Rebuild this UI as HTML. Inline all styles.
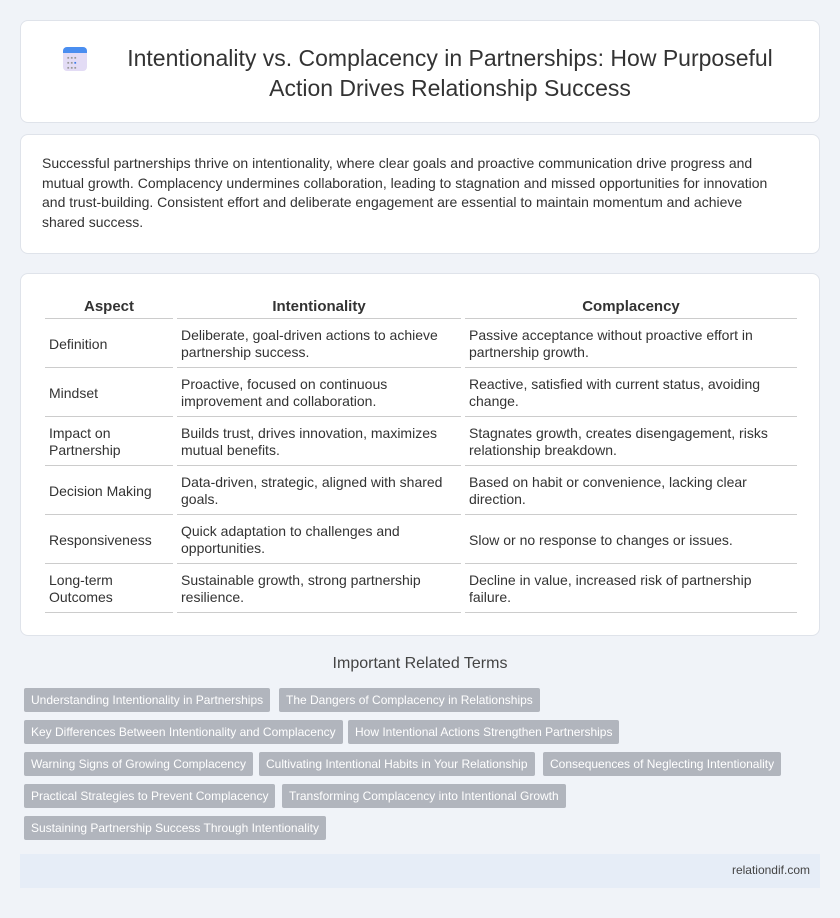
<!DOCTYPE html><html><head><meta charset="utf-8"><style>
body{margin:0;background:#f0f3f8;font-family:"Liberation Sans",sans-serif;color:#333;width:840px;height:918px;position:relative;overflow:hidden}
.card{position:absolute;left:20px;width:798px;background:#fff;border:1px solid #dfe3ea;border-radius:8px}
h1{margin:0;font-weight:normal;font-size:23px;line-height:30px;text-align:center;color:#333}
p{margin:0;font-size:14px;line-height:19.5px;color:#333}
table{border-collapse:separate;border-spacing:4px 2px;font-size:14px;position:absolute;left:20px;top:18px;width:760px}
th{font-weight:bold;font-size:15px;height:22px;border-bottom:1px solid #ccc;text-align:center}
td{border-bottom:1px solid #ccc;height:46px;padding:0 4px;line-height:17px;vertical-align:middle}
.tag{position:absolute;height:24px;line-height:24px;background:#b1b5bd;color:#fff;font-size:12px;padding:0 7px;border-radius:2px;white-space:nowrap}
</style></head><body>
<div class="card" style="top:20px;height:101px">
<div style="position:absolute;left:42px;top:26px;width:24px;height:24px;border-radius:4px;background:#e3dcf5;overflow:hidden"><div style="height:6px;background:#4a8ef0"></div>
<div style="position:absolute;left:4px;top:9px;font-size:7px;color:#999;letter-spacing:1px;line-height:5px">▪▪▪<br>▪▪<span style="color:#3a7be8">▪</span><br>▪▪▪</div></div>
<h1 style="position:absolute;left:80px;right:20px;top:22px">Intentionality vs. Complacency in Partnerships: How Purposeful Action Drives Relationship Success</h1>
</div>
<div class="card" style="top:134px;height:118px"><p style="position:absolute;left:21px;right:36px;top:19px">Successful partnerships thrive on intentionality, where clear goals and proactive communication drive progress and mutual growth. Complacency undermines collaboration, leading to stagnation and missed opportunities for innovation and trust-building. Consistent effort and deliberate engagement are essential to maintain momentum and achieve shared success.</p></div>
<div class="card" style="top:273px;height:361px">
<table>
<tr><th style="width:126px">Aspect</th><th style="width:282px">Intentionality</th><th>Complacency</th></tr>
<tr><td>Definition</td><td>Deliberate, goal-driven actions to achieve partnership success.</td><td>Passive acceptance without proactive effort in partnership growth.</td></tr>
<tr><td>Mindset</td><td>Proactive, focused on continuous improvement and collaboration.</td><td>Reactive, satisfied with current status, avoiding change.</td></tr>
<tr><td>Impact on Partnership</td><td>Builds trust, drives innovation, maximizes mutual benefits.</td><td>Stagnates growth, creates disengagement, risks relationship breakdown.</td></tr>
<tr><td>Decision Making</td><td>Data-driven, strategic, aligned with shared goals.</td><td>Based on habit or convenience, lacking clear direction.</td></tr>
<tr><td>Responsiveness</td><td>Quick adaptation to challenges and opportunities.</td><td>Slow or no response to changes or issues.</td></tr>
<tr><td>Long-term Outcomes</td><td>Sustainable growth, strong partnership resilience.</td><td>Decline in value, increased risk of partnership failure.</td></tr>
</table></div>
<div style="position:absolute;left:0;width:840px;top:655px;text-align:center;font-size:16px;color:#444">Important Related Terms</div>
<div class="tag" style="left:24px;top:688px">Understanding Intentionality in Partnerships</div>
<div class="tag" style="left:279px;top:688px">The Dangers of Complacency in Relationships</div>
<div class="tag" style="left:24px;top:720px">Key Differences Between Intentionality and Complacency</div>
<div class="tag" style="left:348px;top:720px">How Intentional Actions Strengthen Partnerships</div>
<div class="tag" style="left:24px;top:752px">Warning Signs of Growing Complacency</div>
<div class="tag" style="left:259px;top:752px">Cultivating Intentional Habits in Your Relationship</div>
<div class="tag" style="left:543px;top:752px">Consequences of Neglecting Intentionality</div>
<div class="tag" style="left:24px;top:784px">Practical Strategies to Prevent Complacency</div>
<div class="tag" style="left:282px;top:784px">Transforming Complacency into Intentional Growth</div>
<div class="tag" style="left:24px;top:816px">Sustaining Partnership Success Through Intentionality</div>
<div style="position:absolute;left:20px;width:800px;top:854px;height:34px;background:#e6edf7"><span style="position:absolute;right:10px;top:9px;font-size:12px;color:#444">relationdif.com</span></div>
</body></html>
